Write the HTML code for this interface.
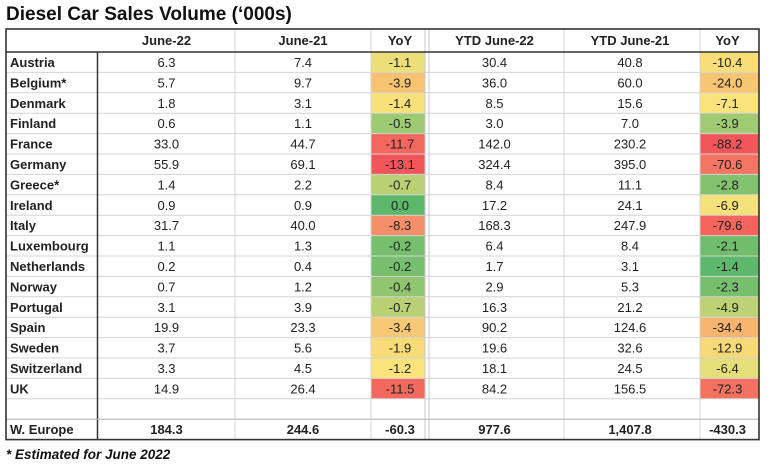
<!DOCTYPE html>
<html><head><meta charset="utf-8">
<style>
html,body{margin:0;padding:0;background:#fff;width:768px;height:465px;overflow:hidden;}
svg{display:block;font-family:"Liberation Sans",sans-serif;}
</style></head>
<body>
<svg id="chart" width="768" height="465">
<text x="6" y="20" font-size="19" font-weight="bold" fill="#111">Diesel Car Sales Volume (‘000s)</text>
<g id="cells"></g>
<g id="lines"></g>
<text x="6" y="459" font-size="13.5" font-weight="bold" font-style="italic" fill="#111">* Estimated for June 2022</text>
</svg>
<script>
const countries=["Austria","Belgium*","Denmark","Finland","France","Germany","Greece*","Ireland","Italy","Luxembourg","Netherlands","Norway","Portugal","Spain","Sweden","Switzerland","UK"];
const june22=["6.3","5.7","1.8","0.6","33.0","55.9","1.4","0.9","31.7","1.1","0.2","0.7","3.1","19.9","3.7","3.3","14.9"];
const june21=["7.4","9.7","3.1","1.1","44.7","69.1","2.2","0.9","40.0","1.3","0.4","1.2","3.9","23.3","5.6","4.5","26.4"];
const yoy1=[-1.1,-3.9,-1.4,-0.5,-11.7,-13.1,-0.7,0.0,-8.3,-0.2,-0.2,-0.4,-0.7,-3.4,-1.9,-1.2,-11.5];
const ytd22=["30.4","36.0","8.5","3.0","142.0","324.4","8.4","17.2","168.3","6.4","1.7","2.9","16.3","90.2","19.6","18.1","84.2"];
const ytd21=["40.8","60.0","15.6","7.0","230.2","395.0","11.1","24.1","247.9","8.4","3.1","5.3","21.2","124.6","32.6","24.5","156.5"];
const yoy2=[-10.4,-24.0,-7.1,-3.9,-88.2,-70.6,-2.8,-6.9,-79.6,-2.1,-1.4,-2.3,-4.9,-34.4,-12.9,-6.4,-72.3];
const headers=["","June-22","June-21","YoY","YTD June-22","YTD June-21","YoY"];
const totals=["W. Europe","184.3","244.6","-60.3","977.6","1,407.8","-430.3"];

const NS="http://www.w3.org/2000/svg";
const colX=[6,98,235,371,429,564,700,759];
const top0=29, headH=23, rowH=20.4;
const cells=document.getElementById('cells'), lines=document.getElementById('lines');
function mk(tag,attrs,parent){const e=document.createElementNS(NS,tag);for(const k in attrs)e.setAttribute(k,attrs[k]);parent.appendChild(e);return e;}
function lerp(a,b,t){return a.map((v,i)=>Math.round(v+(b[i]-v)*t));}
const RED=[242,86,90],YEL=[249,227,122],GRN=[93,184,107];
function scale(vals){
  const s=[...vals].sort((a,b)=>a-b),mn=s[0],mx=s[s.length-1],md=s[Math.floor(s.length/2)];
  return v=>{let c; if(v<=md){c=lerp(RED,YEL,md===mn?1:(v-mn)/(md-mn));}else{c=lerp(YEL,GRN,(v-md)/(mx-md));} return `rgb(${c})`;};
}
const sc1=scale(yoy1), sc2=scale(yoy2);
function rowY(i){return top0+headH+i*rowH;}
function txt(s,col,y,bold,name){
  const x=col===0?colX[0]+4:(colX[col]+colX[col+1])/2+(col>=4?-2:0);
  const t=mk('text',{x:x,y:y,'font-size':13,'text-anchor':col===0?'start':'middle',fill:'#222','font-weight':bold?'bold':'normal'},cells);
  t.textContent=s;
  
  
}
// header
headers.forEach((h,c)=>{ if(h) txt(h,c,top0+16,true,'header-'+c); });
// rows
countries.forEach((cn,i)=>{
  const y=rowY(i);
  const r1=mk('rect',{x:colX[3],y:y,width:colX[4]-4-colX[3],height:rowH,fill:sc1(yoy1[i])},cells);
  
  
  const r2=mk('rect',{x:colX[6],y:y,width:colX[7]-colX[6],height:rowH,fill:sc2(yoy2[i])},cells);
  
  
  const ty=y+15;
  txt(cn,0,ty,true,'country-label');
  txt(june22[i],1,ty,false,'june22-value');
  txt(june21[i],2,ty,false,'june21-value');
  txt(yoy1[i].toFixed(1),3,ty,false,'yoy-month-value');
  txt(ytd22[i],4,ty,false,'ytd22-value');
  txt(ytd21[i],5,ty,false,'ytd21-value');
  txt(yoy2[i].toFixed(1),6,ty,false,'yoy-ytd-value');
});
const totY=rowY(countries.length+1);
totals.forEach((s,c)=>txt(s,c,totY+15,true,'total-'+c));
const bottom=totY+rowH;
// grid
for(let i=0;i<=countries.length+1;i++){
  mk('line',{x1:colX[0],x2:colX[7],y1:rowY(i),y2:rowY(i),stroke:'#d4d4d4','stroke-width':1},lines);
}
[235,371,564,700].forEach(x=>mk('line',{x1:x,x2:x,y1:top0,y2:bottom,stroke:'#d4d4d4','stroke-width':1},lines));
mk('line',{x1:425,x2:425,y1:top0,y2:bottom,stroke:'#c8c8c8','stroke-width':1},lines);
mk('line',{x1:429,x2:429,y1:top0,y2:bottom,stroke:'#c8c8c8','stroke-width':1},lines);
mk('line',{x1:97.5,x2:97.5,y1:top0+headH,y2:bottom,stroke:'#333','stroke-width':1.5},lines);
mk('line',{x1:colX[0],x2:colX[7],y1:top0+headH,y2:top0+headH,stroke:'#333','stroke-width':1.5},lines);
mk('line',{x1:colX[0],x2:colX[7],y1:totY,y2:totY,stroke:'#bbb','stroke-width':1},lines);
const b=mk('rect',{x:colX[0],y:top0,width:colX[7]-colX[0],height:bottom-top0,fill:'none',stroke:'#333','stroke-width':1.6},lines);


</script>
</body></html>
